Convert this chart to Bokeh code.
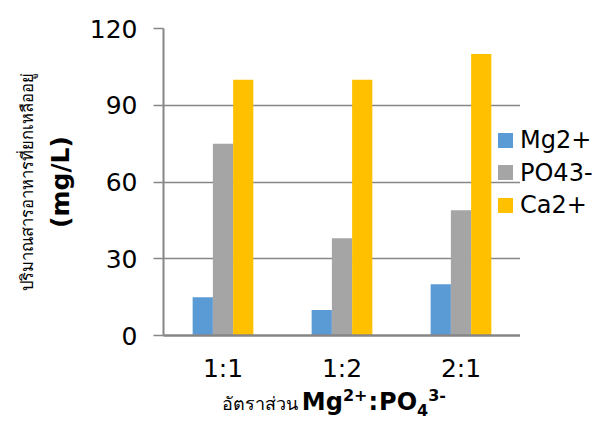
from bokeh.plotting import figure
from bokeh.models import FactorRange, Range1d, FixedTicker, Title, Div
from bokeh.layouts import column, row
from bokeh.transform import dodge
from bokeh.embed import file_html
from bokeh.resources import INLINE

# Data: remaining nutrient concentration (mg/L) by Mg2+:PO4 3- ratio
ratios = ["1:1", "1:2", "2:1"]
mg = [15, 10, 20]
po4 = [75, 38, 49]
ca = [100, 100, 110]
series_names = ["Mg2+", "PO43-", "Ca2+"]
colors = ["#5B9BD5", "#A5A5A5", "#FFC000"]
y_ticks = [0, 30, 60, 90, 120]

FONT = "DejaVu Sans"
GRID = "#868686"

p = figure(width=520, height=388,
           x_range=FactorRange(factors=ratios, range_padding=0),
           y_range=Range1d(0, 120),
           output_backend="svg", toolbar_location=None,
           min_border_left=163, min_border_right=0,
           min_border_top=28, min_border_bottom=53)
p.outline_line_color = None
p.background_fill_color = "white"
p.border_fill_color = "white"

src = dict(ratio=ratios, mg=mg, po4=po4, ca=ca)
bw = 0.17
for off, col, key in zip([-bw, 0, bw], colors, ["mg", "po4", "ca"]):
    p.vbar(x=dodge("ratio", off, range=p.x_range), top=key, width=bw,
           source=src, fill_color=col, line_color=None)

# grid
p.xgrid.grid_line_color = None
p.ygrid.grid_line_color = GRID
p.ygrid.grid_line_width = 1.5
p.yaxis.ticker = FixedTicker(ticks=y_ticks)

# axes
p.yaxis.axis_line_color = GRID
p.yaxis.axis_line_width = 2
p.yaxis.major_tick_line_color = GRID
p.yaxis.major_tick_line_width = 1.5
p.yaxis.major_tick_out = 10
p.yaxis.major_tick_in = 0
p.yaxis.minor_tick_line_color = None
p.yaxis.major_label_text_font = FONT
p.yaxis.major_label_text_font_size = "25px"
p.yaxis.major_label_text_color = "black"
p.yaxis.major_label_standoff = 16
p.yaxis.axis_label = "(mg/L)"
p.yaxis.axis_label_text_font = FONT
p.yaxis.axis_label_text_font_style = "bold"
p.yaxis.axis_label_text_font_size = "25px"
p.yaxis.axis_label_text_color = "black"
p.yaxis.axis_label_standoff = 12

p.xaxis.axis_line_color = GRID
p.xaxis.axis_line_width = 2.5
p.xaxis.major_tick_line_color = None
p.xaxis.major_label_text_font = FONT
p.xaxis.major_label_text_font_size = "25px"
p.xaxis.major_label_text_color = "black"
p.xaxis.major_label_standoff = 12

# outer y title (Thai)
p.add_layout(Title(text="ปริมาณสารอาหารที่ยกเหลืออยู่", align="center",
                   text_font="Noto Sans", text_font_size="16.5px",
                   text_font_style="normal", text_color="black", standoff=10), "left")

# legend column to the right of the plot
rows_html = "".join(
    '<div style="display:flex;align-items:center;height:32.5px;">'
    f'<span style="display:inline-block;width:15px;height:15px;background:{c};margin-right:7px;"></span>'
    f'{n}</div>'
    for n, c in zip(series_names, colors))
legend_div = Div(
    text=('<div style="position:relative;left:-22px;padding-top:124px;white-space:nowrap;'
          "font-family:'DejaVu Sans';font-size:24px;color:black;\">" + rows_html + "</div>"),
    width=83, height=388, margin=0)

# x-axis title with super/subscripts
sup = 'style="font-size:16px;"'
xtitle = Div(
    text=('<div style="padding-left:222px;padding-top:0px;white-space:nowrap;'
          "font-family:'DejaVu Sans';color:black;line-height:1;\">"
          "<span style=\"font-family:'Noto Sans';font-size:18px;\">อัตราส่วน</span> "
          f'<b style="font-size:24px;">Mg<sup {sup}>2+</sup><span style="margin:0 1px;">:</span>PO'
          f'<sub {sup}>4</sub><sup {sup}>3-</sup></b></div>'),
    width=603, height=37, margin=0)

layout = column(row(p, legend_div, spacing=0), xtitle, spacing=0)
open("out.html", "w").write(file_html(layout, INLINE))
